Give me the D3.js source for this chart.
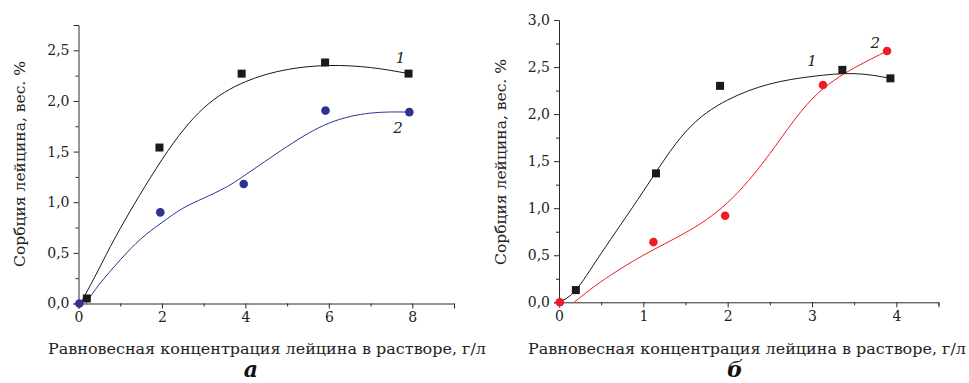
<!DOCTYPE html>
<html>
<head>
<meta charset="utf-8">
<script src="https://cdn.jsdelivr.net/npm/d3@7"></script>
<style>
  body { margin: 0; background: #fff; }
  svg { display: block; }
</style>
</head>
<body>
<svg id="chart" width="969" height="383"></svg>
<script>
// panel a: measured points
var aX1 = [0.2, 1.94, 3.91, 5.91, 7.91];
var aY1 = [0.05, 1.54, 2.27, 2.38, 2.27];
var aX2 = [0.02, 1.96, 3.96, 5.92, 7.93];
var aY2 = [0.0, 0.90, 1.18, 1.905, 1.89];
// panel a: fitted curves
var aCurveX1 = [0.05, 0.5, 1, 2, 3, 4, 5, 6, 7, 7.91];
var aCurveY1 = [0.0, 0.35, 0.74, 1.42, 1.93, 2.19, 2.31, 2.35, 2.33, 2.27];
var aCurveX2 = [0.18, 0.5, 1, 1.5, 2, 2.5, 3, 3.5, 4, 5, 6, 7, 7.93];
var aCurveY2 = [0.0, 0.19, 0.43, 0.64, 0.80, 0.94, 1.04, 1.14, 1.27, 1.55, 1.78, 1.88, 1.89];

// panel б: measured points
var bX1 = [0.20, 1.15, 1.91, 3.36, 3.93];
var bY1 = [0.13, 1.37, 2.30, 2.47, 2.38];
var bX2 = [0.01, 1.12, 1.97, 3.13, 3.89];
var bY2 = [0.0, 0.64, 0.92, 2.31, 2.67];
// panel б: fitted curves
var bCurveX1 = [0.0, 0.2, 0.5, 1, 1.5, 2, 2.5, 3, 3.5, 3.93];
var bCurveY1 = [0.0, 0.13, 0.52, 1.18, 1.81, 2.15, 2.32, 2.40, 2.43, 2.38];
var bCurveX2 = [0.18, 0.5, 1, 1.5, 2, 2.5, 3, 3.5, 3.89];
var bCurveY2 = [0.0, 0.22, 0.50, 0.74, 1.06, 1.58, 2.16, 2.49, 2.67];

var aXTicks = [0, 2, 4, 6, 8];
var aYTicks = [0, 0.5, 1, 1.5, 2, 2.5];
var bXTicks = [0, 1, 2, 3, 4];
var bYTicks = [0, 0.5, 1, 1.5, 2, 2.5, 3];

var xTitle = "Равновесная концентрация лейцина в растворе, г/л";
var yTitle = "Сорбция лейцина, вес. %";

var serif = "'DejaVu Serif', 'Liberation Serif', serif";
var axisColor = "#2a2a2a";
var blue = "#2e3192";
var red = "#ed1c24";
var black = "#1a1a1a";

var svg = d3.select("#chart");

function fmt(v) {
  return d3.format(".1f")(v).replace(".", ",");
}

function zip(xs, ys) {
  return xs.map(function (x, i) { return [x, ys[i]]; });
}

function drawPanel(p) {
  var x = d3.scaleLinear().domain(p.xDomain).range(p.xRange);
  var y = d3.scaleLinear().domain(p.yDomain).range(p.yRange);
  var g = svg.append("g");

  // axes: minor ticks first, then the labelled major ones
  var xAxis = g.append("g").attr("transform", "translate(0," + p.yRange[0] + ")");
  xAxis.call(d3.axisBottom(x).tickValues(p.xMinor).tickSize(3).tickFormat(""));
  xAxis.append("g").call(d3.axisBottom(x).tickValues(p.xTicks).tickSize(5).tickPadding(4).tickFormat(d3.format("d")));
  var yAxis = g.append("g").attr("transform", "translate(" + p.xRange[0] + ",0)");
  yAxis.call(d3.axisLeft(y).tickValues(p.yMinor).tickSize(3).tickFormat(""));
  yAxis.append("g").call(d3.axisLeft(y).tickValues(p.yTicks).tickSize(5).tickPadding(4).tickFormat(fmt));
  g.selectAll(".domain").attr("stroke", axisColor);
  g.selectAll(".tick line").attr("stroke", axisColor);
  g.selectAll(".tick text").attr("font-family", serif).attr("font-size", 14).attr("fill", "#222");
  xAxis.select("g .domain").remove();
  yAxis.select("g .domain").remove();

  var line = d3.line()
    .x(function (d) { return x(d[0]); })
    .y(function (d) { return y(d[1]); })
    .curve(d3.curveNatural);

  g.append("path").datum(zip(p.c1x, p.c1y)).attr("d", line)
    .attr("fill", "none").attr("stroke", black).attr("stroke-width", 1);
  g.append("path").datum(zip(p.c2x, p.c2y)).attr("d", line)
    .attr("fill", "none").attr("stroke", p.color2).attr("stroke-width", 1);

  var s = 8;
  g.selectAll("rect.pt").data(zip(p.x1, p.y1)).enter().append("rect")
    .attr("x", function (d) { return x(d[0]) - s / 2; })
    .attr("y", function (d) { return y(d[1]) - s / 2; })
    .attr("width", s).attr("height", s).attr("fill", black);
  g.selectAll("circle.pt").data(zip(p.x2, p.y2)).enter().append("circle")
    .attr("cx", function (d) { return x(d[0]); })
    .attr("cy", function (d) { return y(d[1]); })
    .attr("r", 4.3).attr("fill", p.color2);

  // curve labels
  p.labels.forEach(function (l) {
    g.append("text").attr("x", x(l[0])).attr("y", y(l[1]))
      .attr("font-family", serif).attr("font-style", "italic").attr("font-size", 15)
      .attr("text-anchor", "middle").attr("fill", "#222").text(l[2]);
  });

  // axis titles
  g.append("text").attr("x", p.xTitleX).attr("y", 354)
    .attr("font-family", serif).attr("font-size", 15).attr("fill", "#222")
    .attr("textLength", 438).attr("lengthAdjust", "spacingAndGlyphs")
    .text(xTitle);
  g.append("text")
    .attr("transform", "translate(" + p.yTitleX + "," + p.yTitleY + ") rotate(-90)")
    .attr("text-anchor", "middle").attr("font-family", serif).attr("font-size", 15)
    .attr("fill", "#222").attr("textLength", 206).attr("lengthAdjust", "spacingAndGlyphs")
    .text(yTitle);

  // panel letter
  g.append("text").attr("x", p.letterX).attr("y", 377)
    .attr("text-anchor", "middle").attr("font-family", serif)
    .attr("font-style", "italic").attr("font-weight", "bold").attr("font-size", 22)
    .attr("fill", "#111").text(p.letter);
}

drawPanel({
  xDomain: [0, 9], xRange: [78.5, 454],
  yDomain: [0, 2.75], yRange: [303.5, 25],
  xTicks: aXTicks, xMinor: [1, 3, 5, 7, 9],
  yTicks: aYTicks, yMinor: [0.25, 0.75, 1.25, 1.75, 2.25, 2.75],
  x1: aX1, y1: aY1, x2: aX2, y2: aY2,
  c1x: aCurveX1, c1y: aCurveY1, c2x: aCurveX2, c2y: aCurveY2,
  color2: blue,
  labels: [[7.72, 2.37, "1"], [7.66, 1.68, "2"]],
  xTitleX: 48, yTitleX: 25, yTitleY: 164,
  letterX: 251, letter: "а"
});

drawPanel({
  xDomain: [0, 4.5], xRange: [559, 938.5],
  yDomain: [0, 3], yRange: [302.3, 20],
  xTicks: bXTicks, xMinor: [0.5, 1.5, 2.5, 3.5, 4.5],
  yTicks: bYTicks, yMinor: [0.25, 0.75, 1.25, 1.75, 2.25, 2.75],
  x1: bX1, y1: bY1, x2: bX2, y2: bY2,
  c1x: bCurveX1, c1y: bCurveY1, c2x: bCurveX2, c2y: bCurveY2,
  color2: red,
  labels: [[3.0, 2.51, "1"], [3.75, 2.70, "2"]],
  xTitleX: 528, yTitleX: 506, yTitleY: 162,
  letterX: 735, letter: "б"
});
</script>
</body>
</html>
